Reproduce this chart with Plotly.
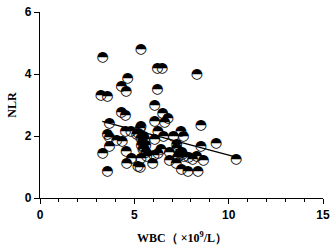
import plotly.graph_objects as go

wbc = [3.32, 5.34, 6.22, 6.47, 8.32, 4.65, 4.31, 4.56, 6.22, 3.22, 3.57, 6.08,
       4.31, 4.52, 6.50, 6.78, 6.61, 6.08, 3.67, 5.34, 8.52, 6.25, 4.52, 4.81,
       3.57, 5.12, 5.48, 6.54, 7.07, 7.46, 7.60, 3.67, 4.06, 4.35, 6.08, 9.33,
       7.24, 3.67, 5.37, 5.51, 8.52, 7.24, 3.32, 4.56, 5.62, 6.85, 7.52, 7.63,
       6.25, 6.04, 5.65, 4.84, 5.34, 7.88, 8.30, 8.09, 8.66, 6.85, 7.21, 4.59,
       5.97, 5.19, 5.30, 7.49, 7.84, 8.37, 3.57, 10.39,
       5.30, 5.21, 5.35, 5.42, 5.55, 5.45, 5.60, 7.40, 7.55, 7.30, 6.40]
nlr = [4.54, 4.80, 4.19, 4.19, 3.98, 3.87, 3.59, 3.42, 3.51, 3.32, 3.29, 3.00,
       2.75, 2.67, 2.73, 2.58, 2.45, 2.47, 2.41, 2.32, 2.34, 2.15, 2.15, 2.13,
       2.04, 2.04, 1.98, 2.00, 1.98, 2.13, 2.00, 1.94, 1.87, 1.83, 1.89, 1.76,
       1.74, 1.65, 1.70, 1.61, 1.65, 1.59, 1.42, 1.51, 1.46, 1.48, 1.46, 1.35,
       1.42, 1.38, 1.35, 1.27, 1.27, 1.31, 1.35, 1.23, 1.20, 1.20, 1.12, 1.12,
       1.12, 1.01, 0.99, 0.93, 0.84, 0.84, 0.84, 1.23,
       2.25, 2.09, 1.93, 1.80, 1.88, 1.55, 1.70, 1.45, 1.40, 1.30, 1.55]

fit_x = [3.3, 10.4]
fit_y = [2.47, 1.32]

x_ticks = [0, 5, 10, 15]
y_ticks = [0, 2, 4, 6]

fig = go.Figure()
fig.add_trace(go.Scatter(x=fit_x, y=fit_y, mode="lines",
                         line=dict(color="black", width=1.2), showlegend=False))
fig.add_trace(go.Scatter(x=wbc, y=nlr, mode="text", text=["◓"] * len(wbc),
                         textposition="middle center",
                         textfont=dict(family="DejaVu Sans", size=14, color="black"),
                         showlegend=False))

fig.update_layout(
    width=331, height=247,
    margin=dict(l=40, r=8, t=12, b=49),
    plot_bgcolor="white", paper_bgcolor="white",
    xaxis=dict(range=[0, 15], tickvals=x_ticks, showgrid=False, zeroline=False,
               automargin=False,
               showline=True, linecolor="black", linewidth=1.3,
               ticks="outside", ticklen=5, tickwidth=1.3, tickcolor="black",
               minor=dict(ticks="outside", ticklen=3, tickwidth=1, tickcolor="black", dtick=1),
               tickfont=dict(family="Liberation Sans", size=12, color="black", weight="bold")),
    yaxis=dict(range=[0, 6], tickvals=y_ticks, showgrid=False, zeroline=False,
               automargin=False,
               showline=True, linecolor="black", linewidth=1.3,
               ticks="outside", ticklen=5, tickwidth=1.3, tickcolor="black",
               tickfont=dict(family="Liberation Sans", size=12, color="black", weight="bold")),
    annotations=[
        dict(text="WBC（ ×10<sup>9</sup>/L）", xref="paper", yref="paper",
             x=0.5, y=-0.215, xanchor="center", yanchor="middle", showarrow=False,
             font=dict(family="Liberation Serif", size=12, color="black", weight="bold")),
        dict(text="NLR", xref="paper", yref="paper", textangle=-90,
             x=-0.1, y=0.5, xanchor="center", yanchor="middle", showarrow=False,
             font=dict(family="Liberation Serif", size=12, color="black", weight="bold")),
    ],
)

fig.write_html("out.html", config={"displayModeBar": False},
               post_script="document.body.style.margin='0';")
